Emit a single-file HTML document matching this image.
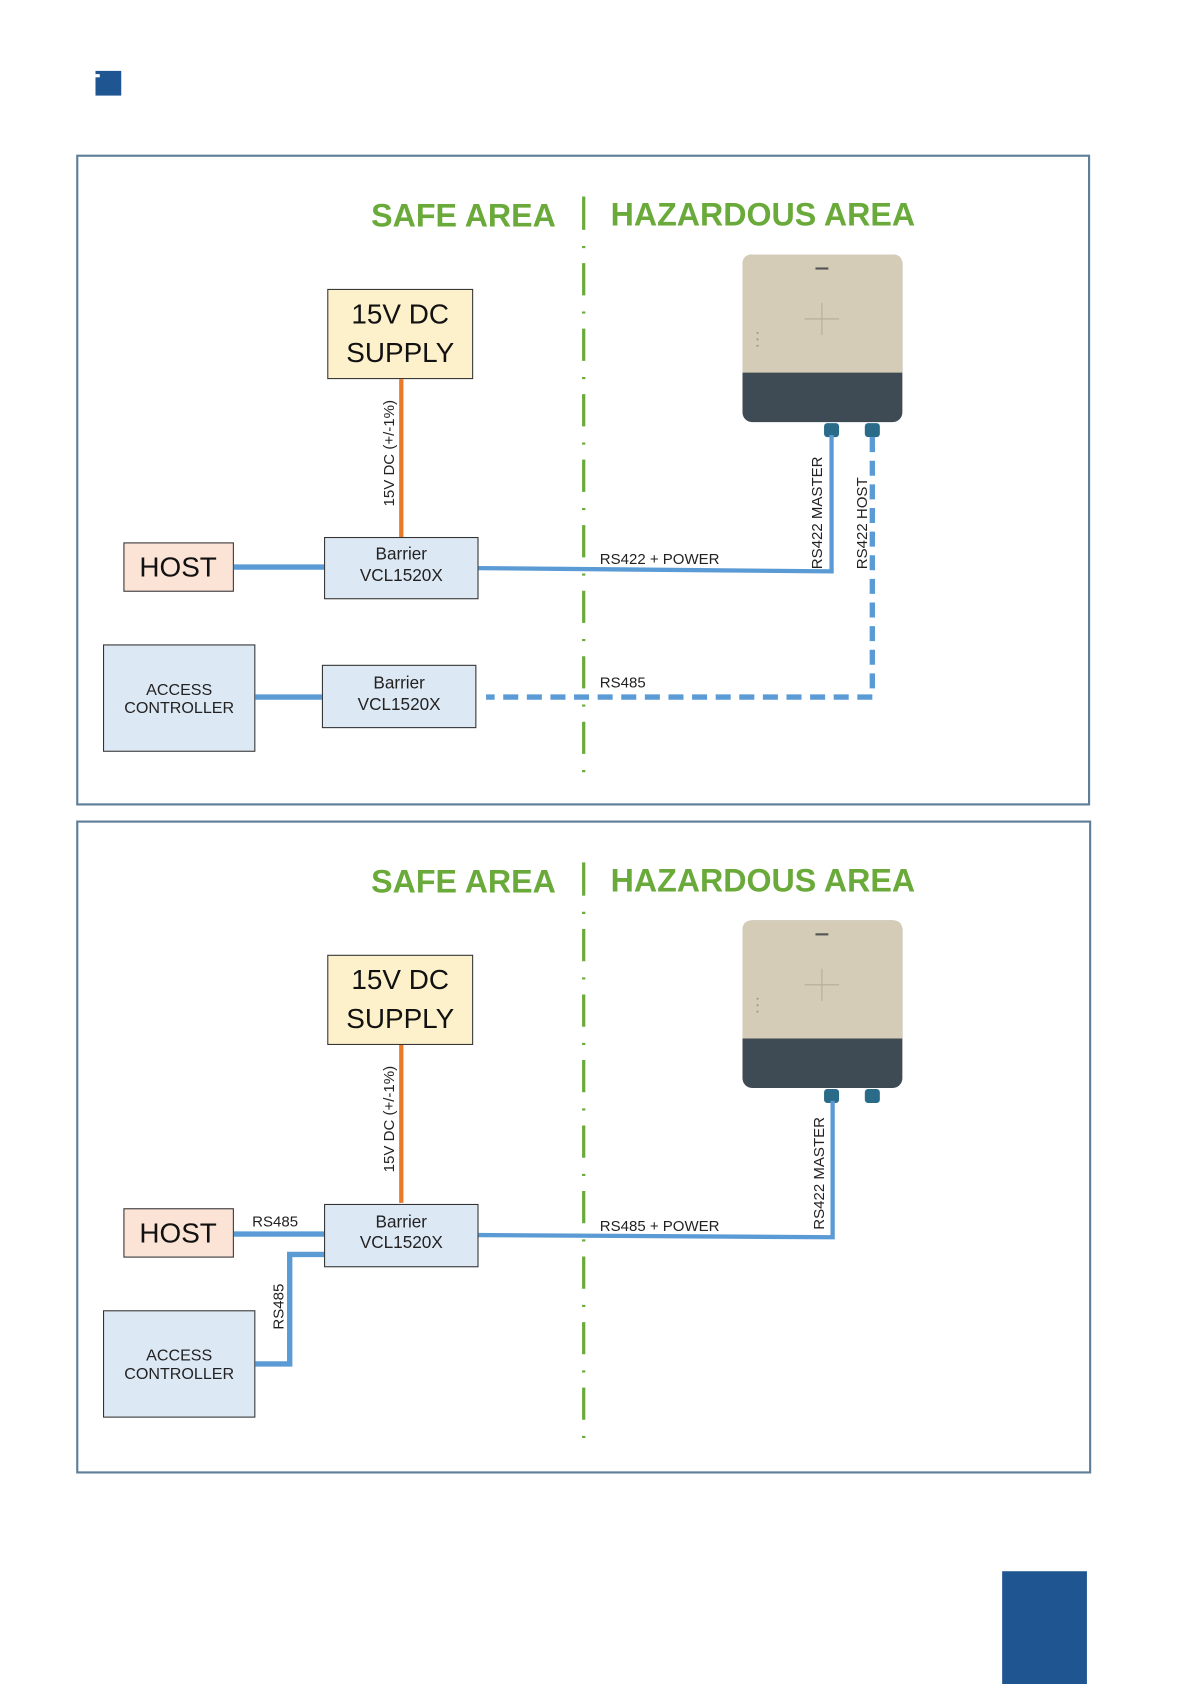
<!DOCTYPE html>
<html><head><meta charset="utf-8"><style>
html,body{margin:0;padding:0;background:#fff;}
svg{display:block;}
text{font-family:"Liberation Sans",sans-serif;}
</style></head><body>
<svg width="1191" height="1684" viewBox="0 0 1110 1568" preserveAspectRatio="none" xmlns="http://www.w3.org/2000/svg">
<rect x="89" y="66" width="24" height="23" fill="#1f5590"/>
<rect x="89" y="69" width="4" height="3" fill="#fff"/>
<rect x="934" y="1463" width="79" height="105" fill="#1f5590"/>

<defs>
<g id="common">
  <text x="432" y="211" font-size="30" font-weight="bold" fill="#6aaa3a" text-anchor="middle">SAFE AREA</text>
  <text x="711" y="210" font-size="30" font-weight="bold" fill="#6aaa3a" text-anchor="middle">HAZARDOUS AREA</text>
  <line x1="544" y1="183" x2="544" y2="214" stroke="#6aaa3a" stroke-width="3"/>
  <line x1="544" y1="229" x2="544" y2="720" stroke="#6aaa3a" stroke-width="3" stroke-dasharray="2 14 30 15"/>
  <rect x="305.5" y="269.5" width="135" height="83" fill="#fdf1cc" stroke="#333" stroke-width="1"/>
  <text x="373" y="301" font-size="26" text-anchor="middle" fill="#111">15V DC</text>
  <text x="373" y="337" font-size="26" text-anchor="middle" fill="#111">SUPPLY</text>
  <line x1="374" y1="353" x2="374" y2="500" stroke="#e87a2a" stroke-width="4"/>
  <text transform="translate(367,422) rotate(-90)" font-size="14" text-anchor="middle" fill="#222">15V DC (+/-1%)</text>
  <rect x="115.5" y="505.5" width="102" height="45" fill="#fbe3d6" stroke="#333"/>
  <text x="166" y="537" font-size="26" text-anchor="middle" fill="#111">HOST</text>
  <rect x="96.5" y="600.5" width="141" height="99" fill="#dde8f5" stroke="#333"/>
  <text x="167" y="647" font-size="15" text-anchor="middle" fill="#222">ACCESS</text>
  <text x="167" y="664" font-size="15" text-anchor="middle" fill="#222">CONTROLLER</text>
  <!-- device -->
  <rect x="692" y="237" width="149" height="156" rx="9" fill="#3e4a54"/>
  <path d="M701 237 H832 Q841 237 841 246 V347 H692 V246 Q692 237 701 237 Z" fill="#d5ccb8"/>
  <rect x="760" y="249" width="12" height="2" fill="#555"/>
  <line x1="766" y1="282" x2="766" y2="312" stroke="#b5ab98" stroke-width="1"/>
  <line x1="750" y1="297" x2="782" y2="297" stroke="#b5ab98" stroke-width="1"/>
  <circle cx="706" cy="310" r="1" fill="#999"/><circle cx="706" cy="316" r="1" fill="#999"/><circle cx="706" cy="322" r="1" fill="#999"/>
  <rect x="768" y="394" width="14" height="13" rx="3" fill="#2a6b8a"/>
  <rect x="806" y="394" width="14" height="13" rx="3" fill="#2a6b8a"/>
</g>
</defs>

<!-- Diagram 1 -->
<rect x="72" y="145" width="943" height="604" fill="none" stroke="#5f7f98" stroke-width="2"/>
<use href="#common"/>
<line x1="218" y1="528" x2="302" y2="528" stroke="#5b9bd5" stroke-width="5"/>
<rect x="302.5" y="500.5" width="143" height="57" fill="#dde8f5" stroke="#333"/>
<text x="374" y="521" font-size="16" text-anchor="middle" fill="#222">Barrier</text>
<text x="374" y="541" font-size="16" text-anchor="middle" fill="#222">VCL1520X</text>
<polyline points="446,529 775,532 775,405" fill="none" stroke="#5b9bd5" stroke-width="4"/>
<text x="559" y="525" font-size="14" fill="#222">RS422 + POWER</text>
<text transform="translate(766,530) rotate(-90)" font-size="14" fill="#222">RS422 MASTER</text>
<text transform="translate(808,530) rotate(-90)" font-size="14" fill="#222">RS422 HOST</text>
<polyline points="813,407 813,649 453,649" fill="none" stroke="#5b9bd5" stroke-width="5" stroke-dasharray="14 8"/>
<text x="559" y="640" font-size="14" fill="#222">RS485</text>
<line x1="238" y1="649" x2="300" y2="649" stroke="#5b9bd5" stroke-width="5"/>
<rect x="300.5" y="619.5" width="143" height="58" fill="#dde8f5" stroke="#333"/>
<text x="372" y="641" font-size="16" text-anchor="middle" fill="#222">Barrier</text>
<text x="372" y="661" font-size="16" text-anchor="middle" fill="#222">VCL1520X</text>

<!-- Diagram 2 -->
<rect x="72" y="765" width="944" height="606" fill="none" stroke="#5f7f98" stroke-width="2"/>
<use href="#common" transform="translate(0,620)"/>
<line x1="218" y1="1149" x2="302" y2="1149" stroke="#5b9bd5" stroke-width="5"/>
<text x="235" y="1142" font-size="14" fill="#222">RS485</text>
<polyline points="238,1270 270,1270 270,1168 302,1168" fill="none" stroke="#5b9bd5" stroke-width="5"/>
<text transform="translate(264,1238) rotate(-90)" font-size="14" fill="#222">RS485</text>
<rect x="302.5" y="1121.5" width="143" height="58" fill="#dde8f5" stroke="#333"/>
<text x="374" y="1143" font-size="16" text-anchor="middle" fill="#222">Barrier</text>
<text x="374" y="1162" font-size="16" text-anchor="middle" fill="#222">VCL1520X</text>
<polyline points="446,1150 776,1152 776,1025" fill="none" stroke="#5b9bd5" stroke-width="4"/>
<text x="559" y="1146" font-size="14" fill="#222">RS485 + POWER</text>
<text transform="translate(768,1145) rotate(-90)" font-size="14" fill="#222">RS422 MASTER</text>
</svg>
</body></html>
